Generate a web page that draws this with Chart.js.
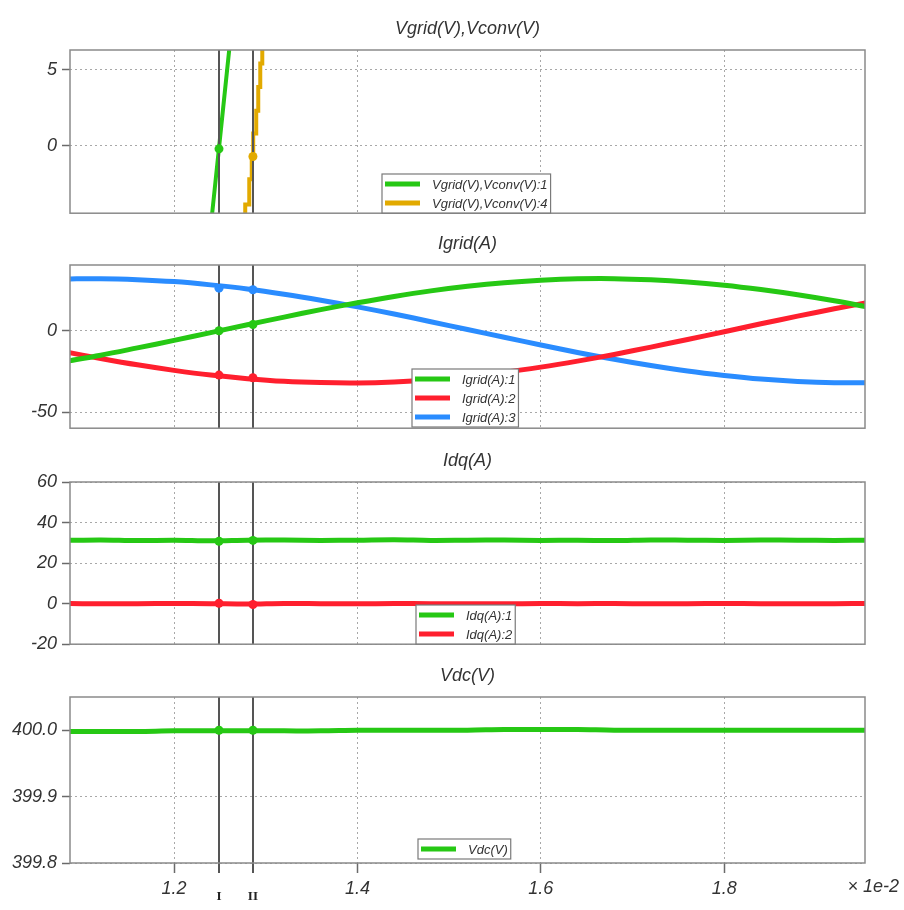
<!DOCTYPE html>
<html lang="en">
<head>
    <meta charset="UTF-8">
    <title>Vgrid / Igrid / Idq / Vdc</title>
    <script src="https://cdn.jsdelivr.net/npm/chart.js@4.4.1/dist/chart.umd.min.js"></script>
    <style>
        body { margin: 0; background: #fff; }
        .wrap { position: relative; width: 904px; height: 910px; overflow: hidden; }
        .wrap canvas { position: absolute; left: 0; }
    </style>
</head>
<body>
<div class="wrap">
    <canvas id="p1" width="904" height="229" style="top:0px"></canvas>
    <canvas id="p2" width="904" height="229" style="top:215px"></canvas>
    <canvas id="p3" width="904" height="228" style="top:432px"></canvas>
    <canvas id="p4" width="904" height="263" style="top:647px"></canvas>
</div>
<script>
// time axis (x 1e-2 s)
const xMin = 1.0865;
const xMax = 1.9535;
const xTickValues = [1.2, 1.4, 1.6, 1.8];
const cursorTimes = [1.249, 1.286];
const cursorNames = ['I', 'II'];

// Vgrid(V),Vconv(V)
const vgridTime = [1.235, 1.250, 1.265];
const vgridValues = [-8.2, 0.45, 9.1];
const vconvTime = [1.2776, 1.2776, 1.2820, 1.2820, 1.2847, 1.2847, 1.2863, 1.2863,
                   1.2896, 1.2896, 1.2918, 1.2918, 1.2940, 1.2940, 1.2962, 1.2962];
const vconvValues = [-6.0, -3.85, -3.85, -2.2, -2.2, -0.8, -0.8, 0.8,
                     0.8, 2.3, 2.3, 3.85, 3.85, 5.4, 5.4, 8.0];
const vCursorGrid = [-0.2, null];
const vCursorConv = [null, -0.7];
const vYTicks = [0, 5];

// shared sample times for the other panels
const sampleTime = [1.08, 1.12, 1.16, 1.20, 1.24, 1.28, 1.32, 1.36, 1.40, 1.44, 1.48, 1.52,
                    1.56, 1.60, 1.64, 1.68, 1.72, 1.76, 1.80, 1.84, 1.88, 1.92, 1.96];

// Igrid(A)
const igrid1 = [-19.0, -15.0, -10.5, -5.9, -1.1, 3.7, 8.4, 13.0, 17.2, 21.1, 24.5, 27.3,
                29.5, 31.0, 31.9, 32.0, 31.3, 30.0, 28.0, 25.3, 22.1, 18.4, 14.2];
const igrid2 = [-12.8, -17.0, -20.9, -24.3, -27.2, -29.4, -31.0, -31.8, -32.0, -31.4, -30.1, -28.1,
                -25.5, -22.3, -18.6, -14.5, -10.0, -5.3, -0.6, 4.3, 9.0, 13.5, 17.7];
const igrid3 = [31.8, 32.0, 31.4, 30.2, 28.2, 25.7, 22.5, 18.8, 14.7, 10.3, 5.6, 0.8,
                -4.0, -8.7, -13.3, -17.5, -21.3, -24.7, -27.4, -29.6, -31.1, -31.9, -31.9];
const iCursor1 = [0.0, 3.8];
const iCursor2 = [-27.2, -28.8];
const iCursor3 = [26.2, 25.2];
const iYTicks = [-50, 0];

// Idq(A)
const idq1 = [31.2, 31.4, 31.1, 31.3, 31.0, 31.3, 31.4, 31.2, 31.3, 31.5, 31.2, 31.3,
              31.4, 31.2, 31.3, 31.1, 31.4, 31.3, 31.2, 31.4, 31.3, 31.2, 31.3];
const idq2 = [0.1, -0.1, 0.0, 0.1, 0.0, -0.2, 0.1, 0.0, -0.1, 0.1, 0.0, 0.0,
              -0.1, 0.1, 0.0, 0.1, -0.1, 0.0, 0.1, 0.0, -0.1, 0.0, 0.1];
const dqCursor1 = [30.8, 31.2];
const dqCursor2 = [0.2, -0.4];
const dqYTicks = [-20, 0, 20, 40, 60];

// Vdc(V)
const vdc = [399.998, 399.998, 399.998, 399.999, 399.999, 399.999, 399.999, 399.999, 400.000, 400.000, 400.000, 400.000,
             400.001, 400.001, 400.001, 400.000, 400.000, 400.000, 400.000, 400.000, 400.000, 400.000, 400.000];
const vdcCursor = [400.0, 400.0];
const vdcYTicks = [399.8, 399.9, 400.0];

const GREEN = '#26c814';
const RED = '#ff1f2e';
const BLUE = '#2a8cff';
const ORANGE = '#e2aa00';
const FONT = '"Liberation Sans", Arial, sans-serif';
const TEXT = '#333333';

Chart.defaults.font.family = FONT;

function pts(xs, ys) {
    return xs.map((x, i) => ({ x: x, y: ys[i] }));
}

function series(label, xs, ys, color, width) {
    return {
        label: label,
        data: pts(xs, ys),
        borderColor: color,
        backgroundColor: color,
        borderWidth: width,
        pointRadius: 0,
        tension: 0.35,
        fill: false
    };
}

// draws cursors, dots, frame, legend and title on top of the datasets
const decorPlugin = {
    id: 'decor',
    afterDatasetsDraw(chart, args, opts) {
        const ctx = chart.ctx;
        const area = chart.chartArea;
        const xs = chart.scales.x;
        const ys = chart.scales.y;
        ctx.save();

        // cursor lines
        ctx.strokeStyle = '#555555';
        ctx.lineWidth = 2;
        cursorTimes.forEach(t => {
            const px = Math.round(xs.getPixelForValue(t));
            ctx.beginPath();
            ctx.moveTo(px, area.top);
            ctx.lineTo(px, area.bottom + (opts.bottomAxis ? 10 : 0));
            ctx.stroke();
        });

        // cursor readout dots
        (opts.dots || []).forEach(d => {
            d.values.forEach((v, i) => {
                if (v === null) return;
                ctx.fillStyle = d.color;
                ctx.beginPath();
                ctx.arc(xs.getPixelForValue(cursorTimes[i]), ys.getPixelForValue(v), 4.5, 0, Math.PI * 2);
                ctx.fill();
            });
        });

        // frame
        ctx.strokeStyle = '#8a8a8a';
        ctx.lineWidth = 1.5;
        ctx.strokeRect(area.left, area.top, area.right - area.left, area.bottom - area.top);

        // title
        ctx.fillStyle = TEXT;
        ctx.font = 'italic 18px ' + FONT;
        ctx.textAlign = 'center';
        ctx.textBaseline = 'middle';
        ctx.fillText(opts.title, (area.left + area.right) / 2, area.top - 21);

        // legend box
        const lg = opts.legend;
        const items = chart.data.datasets;
        ctx.font = 'italic 13px ' + FONT;
        let tw = 0;
        items.forEach(ds => { tw = Math.max(tw, ctx.measureText(ds.label).width); });
        const bx = lg.x, by = area.top + lg.dy;
        const bw = 50 + tw + 3;
        const bh = items.length * 19 + 1;
        ctx.fillStyle = '#ffffff';
        ctx.fillRect(bx, by, bw, bh);
        ctx.strokeStyle = '#7a7a7a';
        ctx.lineWidth = 1.2;
        ctx.strokeRect(bx, by, bw, bh);
        items.forEach((ds, i) => {
            const ry = by + 10 + i * 19;
            ctx.strokeStyle = ds.borderColor;
            ctx.lineWidth = 5;
            ctx.beginPath();
            ctx.moveTo(bx + 3, ry);
            ctx.lineTo(bx + 38, ry);
            ctx.stroke();
            ctx.fillStyle = TEXT;
            ctx.textAlign = 'left';
            ctx.textBaseline = 'middle';
            ctx.fillText(ds.label, bx + 50, ry + 1);
        });

        // bottom panel extras: cursor names and exponent
        if (opts.bottomAxis) {
            ctx.fillStyle = '#222222';
            ctx.font = 'bold 13px "Liberation Serif", "DejaVu Serif", serif';
            ctx.textAlign = 'center';
            ctx.textBaseline = 'middle';
            cursorTimes.forEach((t, i) => {
                ctx.fillText(cursorNames[i], xs.getPixelForValue(t), area.bottom + 34);
            });
            ctx.font = 'italic 18px ' + FONT;
            ctx.textAlign = 'right';
            ctx.fillStyle = TEXT;
            ctx.fillText('\u00d7 1e-2', 899, area.bottom + 24);
        }
        ctx.restore();
    }
};

function makePanel(id, datasets, yMin, yMax, yTicks, yDigits, opts) {
    const bottomAxis = !!opts.bottomAxis;
    return new Chart(document.getElementById(id), {
        type: 'line',
        data: { datasets: datasets },
        options: {
            responsive: false,
            animation: false,
            devicePixelRatio: 1,
            layout: { padding: { top: 50, left: 0, right: 39, bottom: bottomAxis ? 0 : 12 } },
            plugins: {
                legend: { display: false },
                tooltip: { enabled: false },
                decor: opts
            },
            scales: {
                x: {
                    type: 'linear',
                    min: xMin,
                    max: xMax,
                    afterBuildTicks: s => { s.ticks = xTickValues.map(v => ({ value: v })); },
                    afterFit: s => { s.height = bottomAxis ? 47 : 0; },
                    border: { display: false, dash: [2, 3] },
                    grid: {
                        color: '#a8a8a8',
                        lineWidth: 1,
                        borderDash: [2, 3],
                        drawTicks: bottomAxis,
                        tickLength: 10,
                        tickColor: '#6a6a6a',
                        tickWidth: 1.5,
                        tickBorderDash: []
                    },
                    ticks: {
                        display: bottomAxis,
                        maxRotation: 0,
                        padding: 5,
                        color: TEXT,
                        font: { size: 18, style: 'italic' },
                        callback: v => v.toFixed(1)
                    }
                },
                y: {
                    type: 'linear',
                    min: yMin,
                    max: yMax,
                    afterBuildTicks: s => { s.ticks = yTicks.map(v => ({ value: v })); },
                    afterFit: s => { s.width = 70; },
                    border: { display: false, dash: [2, 3] },
                    grid: {
                        color: '#a8a8a8',
                        lineWidth: 1,
                        borderDash: [2, 3],
                        tickLength: 8,
                        tickColor: '#6a6a6a',
                        tickWidth: 1.5,
                        tickBorderDash: []
                    },
                    ticks: {
                        padding: 5,
                        color: TEXT,
                        font: { size: 18, style: 'italic' },
                        callback: v => v.toFixed(yDigits)
                    }
                }
            }
        },
        plugins: [decorPlugin]
    });
}

makePanel('p1', [
    series('Vgrid(V),Vconv(V):1', vgridTime, vgridValues, GREEN, 4),
    Object.assign(series('Vgrid(V),Vconv(V):4', vconvTime, vconvValues, ORANGE, 4), { tension: 0 })
], -4.42, 6.28, vYTicks, 0, {
    title: 'Vgrid(V),Vconv(V)',
    legend: { x: 382, dy: 124 },
    dots: [{ values: vCursorGrid, color: GREEN }, { values: vCursorConv, color: ORANGE }]
});

makePanel('p2', [
    series('Igrid(A):1', sampleTime, igrid1, GREEN, 5),
    series('Igrid(A):2', sampleTime, igrid2, RED, 5),
    series('Igrid(A):3', sampleTime, igrid3, BLUE, 5)
], -59.8, 40.4, iYTicks, 0, {
    title: 'Igrid(A)',
    legend: { x: 412, dy: 104 },
    dots: [{ values: iCursor1, color: GREEN }, { values: iCursor2, color: RED }, { values: iCursor3, color: BLUE }]
});

makePanel('p3', [
    series('Idq(A):1', sampleTime, idq1, GREEN, 5),
    series('Idq(A):2', sampleTime, idq2, RED, 5)
], -20, 60, dqYTicks, 0, {
    title: 'Idq(A)',
    legend: { x: 416, dy: 123 },
    dots: [{ values: dqCursor1, color: GREEN }, { values: dqCursor2, color: RED }]
});

makePanel('p4', [
    series('Vdc(V)', sampleTime, vdc, GREEN, 5)
], 399.8, 400.05, vdcYTicks, 1, {
    title: 'Vdc(V)',
    legend: { x: 418, dy: 142 },
    bottomAxis: true,
    dots: [{ values: vdcCursor, color: GREEN }]
});
</script>
</body>
</html>
